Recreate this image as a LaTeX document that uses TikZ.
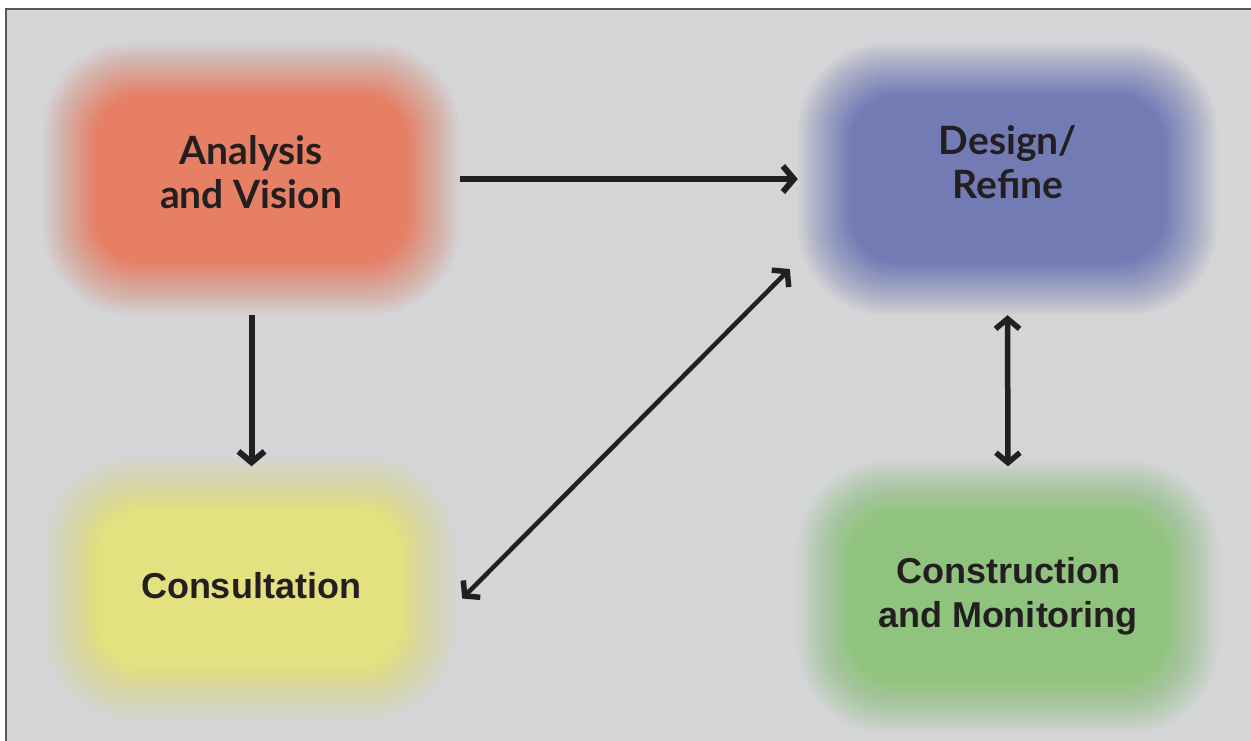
\documentclass[tikz,border=0pt]{standalone}
\usepackage{fontspec}
\usetikzlibrary{arrows.meta,calc}
\newfontfamily\headfont{Lato}
\newfontfamily\plainfont{Liberation Sans}
\definecolor{panelgray}{HTML}{D4D5D7}
\definecolor{framegray}{HTML}{58585A}
\definecolor{inkblack}{HTML}{231F20}
\definecolor{anacol}{HTML}{E77F65}
\definecolor{descol}{HTML}{737BB5}
\definecolor{concol}{HTML}{E4E180}
\definecolor{cmcol}{HTML}{90C47E}
% soft-edged box: node name, colour (linear ramp, 28 layers)
\newcommand{\glowbox}[2]{%
  \foreach \k in {1,...,28}{
    \pgfmathsetmacro{\dd}{2*(\k-1)}
    \pgfmathsetmacro{\op}{1/(29-\k)}
    \pgfmathsetmacro{\rr}{88-0.8*\dd}
    \fill[#2,fill opacity=\op,rounded corners=\rr pt]
      ($(#1.north west)+(\dd,\dd)$) rectangle ($(#1.south east)-(\dd,\dd)$);
  }}
\begin{document}
\begin{tikzpicture}[x=1pt,y=-1pt,>=Stealth]
\tikzset{boxn/.style={draw=none,inner sep=0pt,rectangle},
  headlbl/.style={align=center,text=inkblack,inner sep=0pt,
    font=\headfont\bfseries\fontsize{39}{44}\selectfont},
  plainlbl/.style={align=center,text=inkblack,inner sep=0pt,
    font=\plainfont\bfseries\fontsize{36}{44}\selectfont},
  flow/.style={draw=inkblack,line width=6pt,
    -{Straight Barb[length=11pt,width=26pt]}},
  both/.style={draw=inkblack,line width=5pt,
    {Straight Barb[length=10pt,width=24pt,line width=5.5pt]}-{Straight Barb[length=10pt,width=24pt,line width=5.5pt]}}}
\useasboundingbox (0,0) rectangle (1251,740);
% ================= panel =================
\fill[white] (0,0) rectangle (1251,740);
\fill[panelgray] (6,9) rectangle (1260,750);
\draw[framegray,line width=2.5pt] (6,750) -- (6,9) -- (1260,9);
% ================= boxes =================
\node[boxn,minimum width=417pt,minimum height=272pt] (ana) at (251.5,179) {};
\node[boxn,minimum width=419pt,minimum height=272pt] (des) at (1007.5,179) {};
\node[boxn,minimum width=412pt,minimum height=264pt] (con) at (250,588.5) {};
\node[boxn,minimum width=421pt,minimum height=273pt] (cm) at (1008,597) {};
\glowbox{ana}{anacol}
\glowbox{des}{descol}
\glowbox{con}{concol}
\glowbox{cm}{cmcol}
% ---------- labels ----------
\node[headlbl] (anat) at (251,172) {Analysis\\and Vision};
\node[headlbl] (dest) at (1008,162) {Design/\\Refine};
\node[plainlbl] (cont) at (251,585.5) {Consultation};
\node[plainlbl] (cmt) at (1008,596) {Construction\\and Monitoring};
% ================= arrows =================
\draw[flow] (ana.east) -- (des.west);
\draw[flow] (ana.south) -- ($(ana.south |- con.north)+(0,10)$);
\draw[both,line width=4.5pt] ($(con.east)+(6,10)$) -- ($(des.west)+(-8,90)$);
\draw[both,line width=5.5pt] (des.south) -- ($(cm.north)+(0,6)$);
\end{tikzpicture}
\end{document}
